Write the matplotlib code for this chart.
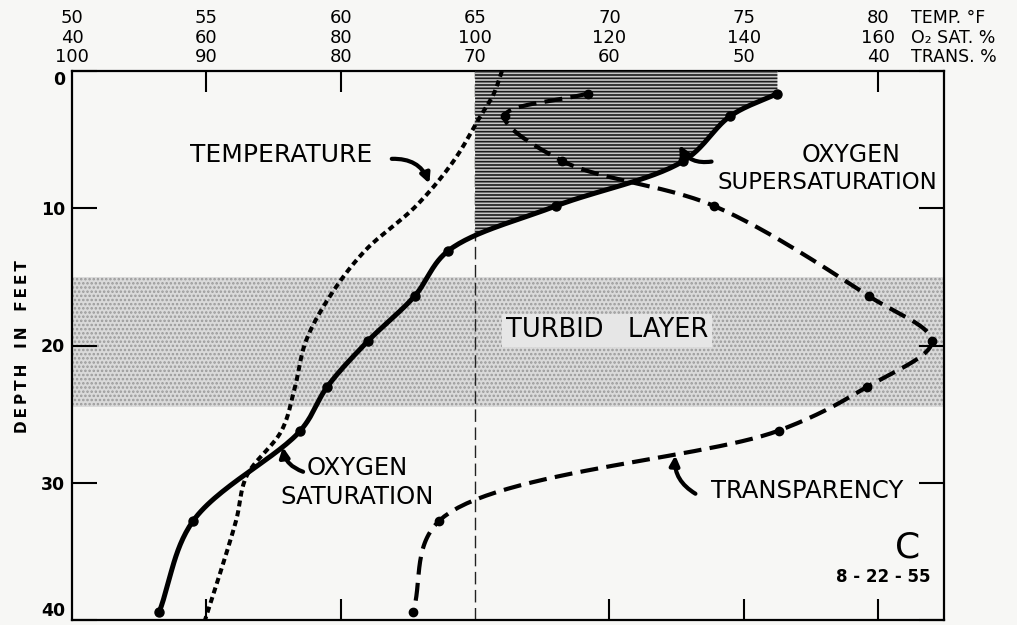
import matplotlib.pyplot as plt
import numpy as np

# depths of the measurements (ft)
depth_temp = [0.0, 1.64, 3.28, 6.56, 9.84, 13.1, 16.4, 19.7, 23.0, 26.2, 29.5, 32.8, 39.4, 40.0]
temp_f = [66.0, 65.7, 65.2, 64.2, 62.8, 60.9, 59.6, 58.7, 58.3, 57.8, 56.5, 56.1, 55.05, 54.95]

depth_o2 = [1.64, 3.28, 6.56, 9.84, 13.1, 16.4, 19.7, 23.0, 26.2, 32.8, 39.4]
o2_sat = [145, 138, 131, 112, 96, 91, 84, 78, 74, 58, 53]

depth_trans = [1.64, 3.28, 6.56, 9.84, 16.4, 19.7, 23.0, 26.2, 32.8, 39.4]
trans_pct = [61.6, 67.8, 63.5, 52.2, 40.7, 36.0, 40.8, 47.4, 72.7, 74.6]

temp_ticks = [50, 55, 60, 65, 70, 75, 80]
o2_ticks = [40, 60, 80, 100, 120, 140, 160]
trans_ticks = [100, 90, 80, 70, 60, 50, 40]
depth_ticks = [0, 10, 20, 30, 40]

turbid_top, turbid_bottom = 15.0, 24.5

# rough pixel size of one unit on each axis, used only to smooth curves
SX, SY = 26.87, 13.68


def o2_to_temp(v):
    return 50 + (np.asarray(v, float) - 40) / 4.0


def trans_to_temp(v):
    return 50 + (100 - np.asarray(v, float)) / 2.0


def smooth(xs, ys, n=30):
    # centripetal catmull-rom through the points
    pts = np.column_stack([np.asarray(xs, float) * SX, np.asarray(ys, float) * SY])
    p = np.vstack([2 * pts[0] - pts[1], pts, 2 * pts[-1] - pts[-2]])
    out = []
    for i in range(1, len(p) - 2):
        p0, p1, p2, p3 = p[i - 1], p[i], p[i + 1], p[i + 2]
        t0 = 0.0
        t1 = t0 + np.linalg.norm(p1 - p0) ** 0.5
        t2 = t1 + np.linalg.norm(p2 - p1) ** 0.5
        t3 = t2 + np.linalg.norm(p3 - p2) ** 0.5
        t = np.linspace(t1, t2, n, endpoint=False)[:, None]
        a1 = (t1 - t) / (t1 - t0) * p0 + (t - t0) / (t1 - t0) * p1
        a2 = (t2 - t) / (t2 - t1) * p1 + (t - t1) / (t2 - t1) * p2
        a3 = (t3 - t) / (t3 - t2) * p2 + (t - t2) / (t3 - t2) * p3
        b1 = (t2 - t) / (t2 - t0) * a1 + (t - t0) / (t2 - t0) * a2
        b2 = (t3 - t) / (t3 - t1) * a2 + (t - t1) / (t3 - t1) * a3
        out.append((t2 - t) / (t2 - t1) * b1 + (t - t1) / (t2 - t1) * b2)
    out.append(pts[-1:])
    s = np.vstack(out)
    return s[:, 0] / SX, s[:, 1] / SY


plt.rcParams["font.family"] = ["DejaVu Sans"]
plt.rcParams["hatch.linewidth"] = 1.2

fig = plt.figure(figsize=(10.17, 6.25), dpi=100)
fig.patch.set_facecolor("#f7f7f5")
ax = fig.add_axes([72 / 1017, 1 - 620 / 625, (944 - 72) / 1017, (620 - 71) / 625])
ax.set_facecolor("#f7f7f5")
ax.set_xlim(50, 82.45)
ax.set_ylim(40, 0)

# turbid layer
ax.axhspan(turbid_top, turbid_bottom, facecolor="#dadada", edgecolor="#9a9a9a",
           hatch="....", linewidth=0, zorder=1)

# 100 % saturation line
ax.axvline(65, color="#222222", lw=1.0, dashes=(9, 4), zorder=2)

# curves
tx, ty = smooth(temp_f, depth_temp)
ax.plot(tx, ty, color="black", lw=2.9, dashes=(1.5, 1.0), dash_capstyle="butt", zorder=4)

ox_t = o2_to_temp(o2_sat)
ox, oy = smooth(ox_t, depth_o2)
ax.plot(ox, oy, color="black", lw=3.6, solid_capstyle="round", zorder=4)
ax.plot(ox_t, depth_o2, "o", color="black", ms=6.5, zorder=5)

tr_t = trans_to_temp(trans_pct)
rx, ry = smooth(tr_t, depth_trans)
ax.plot(rx, ry, color="black", lw=3.0, dashes=(4.3, 2.0), dash_capstyle="butt", zorder=4)
ax.plot(tr_t, depth_trans, "o", color="black", ms=6, zorder=5)

# supersaturation area
k = np.argmax(ox < 65)
d_cross = np.interp(65, [ox[k], ox[k - 1]], [oy[k], oy[k - 1]])
poly_x = np.concatenate([[65, ox[0]], ox[:k], [65]])
poly_y = np.concatenate([[0, 0], oy[:k], [d_cross]])
ax.fill(poly_x, poly_y, facecolor="#c8c8c8", edgecolor="#1c1c1c", hatch="-----",
        linewidth=0, zorder=3)

# axes styling
for sp in ax.spines.values():
    sp.set_linewidth(1.6)
ax.set_xticks([t for t in temp_ticks if t not in (50, 65)])
ax.tick_params(axis="x", which="both", direction="in", length=15, width=1.5,
               top=True, bottom=True, labelbottom=False, labeltop=False)
ax.set_yticks(depth_ticks)
ax.tick_params(axis="y", direction="in", length=18, width=1.5, right=True,
               labelsize=12.5, pad=5)
ylabels = ax.set_yticklabels([str(d) for d in depth_ticks], fontweight="bold")
ylabels[0].set_va("top")
ylabels[-1].set_va("bottom")

# top scale labels
rows = [(temp_ticks, 38, "TEMP. °F"), (o2_ticks, 24, "O₂ SAT. %"), (trans_ticks, 10, "TRANS. %")]
for vals, off, name in rows:
    for t, v in zip(temp_ticks, vals):
        ax.annotate(str(v), xy=(t, 1), xycoords=("data", "axes fraction"),
                    xytext=(0, off), textcoords="offset points", ha="center", va="center",
                    fontsize=13, annotation_clip=False)
    ax.annotate(name, xy=(1, 1), xycoords="axes fraction", xytext=(-24, off),
                textcoords="offset points", ha="left", va="center", fontsize=12.5,
                annotation_clip=False)

ax.text(0.022, 1 - 347 / 625, "D\u2009E\u2009P\u2009T\u2009H   I\u2009N   F\u2009E\u2009E\u2009T",
        transform=fig.transFigure, rotation=90, ha="center", va="center",
        fontsize=11, fontweight="bold")

arrow = dict(arrowstyle="-|>", lw=3, color="black", mutation_scale=14, shrinkA=0, shrinkB=0)
ax.text(57.8, 6.1, "TEMPERATURE", ha="center", va="center", fontsize=18)
ax.annotate("", xy=(63.3, 8.2), xytext=(61.9, 6.4),
            arrowprops=dict(arrow, connectionstyle="arc3,rad=-0.35"))

ax.text(79.0, 6.15, "OXYGEN", ha="center", va="center", fontsize=17)
ax.text(78.1, 8.1, "SUPERSATURATION", ha="center", va="center", fontsize=16.5)
ax.annotate("", xy=(72.6, 5.4), xytext=(73.8, 6.6),
            arrowprops=dict(arrow, connectionstyle="arc3,rad=-0.35"))

ax.text(60.6, 30.0, "OXYGEN\nSATURATION", ha="center", va="center", fontsize=17.5,
        linespacing=1.25)
ax.annotate("", xy=(57.85, 27.4), xytext=(58.6, 29.2),
            arrowprops=dict(arrow, connectionstyle="arc3,rad=-0.3"))

ax.text(77.35, 30.6, "TRANSPARENCY", ha="center", va="center", fontsize=17.5)
ax.annotate("", xy=(72.45, 28.0), xytext=(73.2, 30.8),
            arrowprops=dict(arrow, connectionstyle="arc3,rad=-0.3"))

ax.text(69.9, 18.9, "TURBID   LAYER", ha="center", va="center", fontsize=18.5,
        bbox=dict(boxstyle="square,pad=0.15", facecolor="#e6e6e6", edgecolor="none"), zorder=6)

ax.text(81.56, 34.7, "C", ha="right", va="center", fontsize=26)
ax.text(80.2, 36.9, "8 - 22 - 55", ha="center", va="center", fontsize=12,
        fontweight="bold")

fig.savefig("out.png", dpi=100, facecolor=fig.get_facecolor())
